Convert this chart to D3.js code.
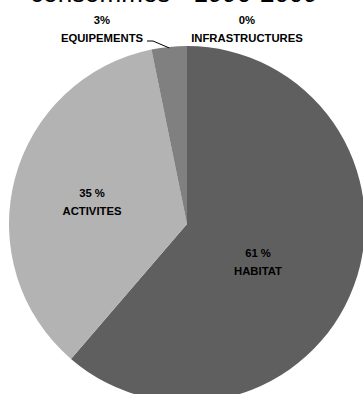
<!DOCTYPE html>
<html><head><meta charset="utf-8">
<script src="https://cdn.jsdelivr.net/npm/d3@7"></script>
<style>html,body{margin:0;padding:0;background:#fff;overflow:hidden}</style>
</head><body>
<svg id="c" width="363" height="394"></svg>
<script>
const title = "consommés - 1990-2009";
const categories = ["HABITAT", "ACTIVITES", "EQUIPEMENTS", "INFRASTRUCTURES"];
const values = [61.3, 35.5, 3.2, 0.0];
const pctLabels = ["61 %", "35 %", "3%", "0%"];
const colors = ["#5f5f5f", "#b3b3b3", "#808080", "#9a9a9a"];

// layout (positions of labels, not data)
const labelPos = [[258, 257], [92, 197], [102, 24], [247, 24]];

const svg = d3.select("#c");
const cx = 187, cy = 224, r = 178;

svg.append("text").attr("x", 174).attr("y", 2).attr("text-anchor", "middle")
  .attr("font-family", "Liberation Sans, Arial, sans-serif").attr("font-size", 26)
  .attr("fill", "#000").text(title);

const pie = d3.pie().sort(null).value(d => d)(values);
const arc = d3.arc().innerRadius(0).outerRadius(r);
const g = svg.append("g").attr("transform", `translate(${cx},${cy})`);
g.selectAll("path").data(pie).join("path")
  .attr("d", arc).attr("fill", (d, i) => colors[i]);

// leader line for EQUIPEMENTS
const eq = pie[2];
const mid = (eq.startAngle + eq.endAngle) / 2;
const ex = cx + Math.sin(mid) * r, ey = cy - Math.cos(mid) * r;
svg.append("polyline")
  .attr("points", `147,41 153,41 ${ex},${ey + 1}`)
  .attr("fill", "none").attr("stroke", "#000").attr("stroke-width", 1);

categories.forEach((c, i) => {
  const [x, y] = labelPos[i];
  const t = svg.append("text").attr("text-anchor", "middle")
    .attr("font-family", "Liberation Sans, Arial, sans-serif")
    .attr("font-size", 11.3).attr("font-weight", "bold").attr("fill", "#000");
  t.append("tspan").attr("x", x).attr("y", y).text(pctLabels[i]);
  t.append("tspan").attr("x", x).attr("y", y + 18).text(c);
});
</script>
</body></html>
